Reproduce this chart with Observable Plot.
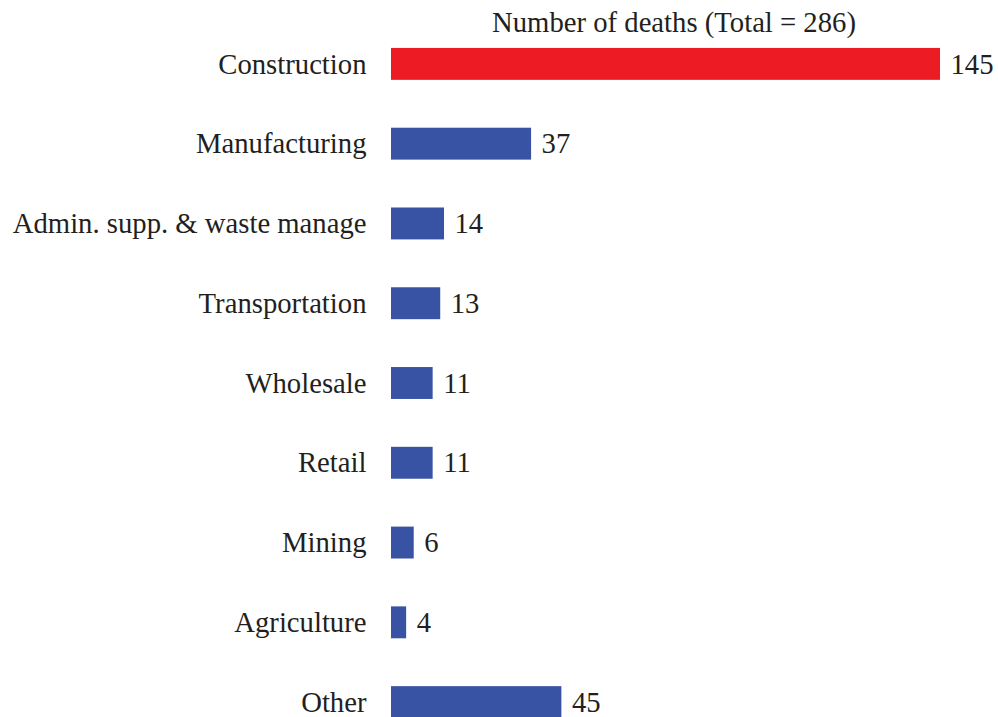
<!DOCTYPE html>
<html><head><meta charset="utf-8">
<script src="https://cdn.jsdelivr.net/npm/d3@7"></script>
<script src="https://cdn.jsdelivr.net/npm/@observablehq/plot@0.6"></script>
<style>body{margin:0;background:#fff}</style>
</head><body><div id="chart"></div>
<script>
const categories = ["Construction","Manufacturing","Admin. supp. & waste manage","Transportation","Wholesale","Retail","Mining","Agriculture","Other"];
const deaths = [145,37,14,13,11,11,6,4,45];
const highlight = ["Construction"];
const titleText = "Number of deaths (Total = 286)";
const data = categories.map((c,i)=>({category:c, value:deaths[i], hi: highlight.includes(c)}));
const chart = Plot.plot({
  width: 998, height: 717,
  marginLeft: 391, marginRight: 58, marginTop: 0, marginBottom: 0,
  style: {fontFamily: "'Liberation Serif', 'Times New Roman', serif", fontSize: "28.7px", color: "#231f20", background: "#fff"},
  x: {domain: [0,145], axis: null},
  y: {domain: categories, range: [24, 742], round: false, paddingInner: 0.6, paddingOuter: 0.3, label: null, tickSize: 0, tickPadding: 25},
  marks: [
    Plot.barX(data, {x: "value", y: "category", fill: d => d.hi ? "#ED1C24" : "#3953A4"}),
    Plot.text(data, {x: "value", y: "category", text: d => String(d.value), textAnchor: "start", dx: 10, fill: "#231f20"}),
    Plot.text([titleText], {frameAnchor: "top", dy: 22, dx: 8, text: d => d, fill: "#231f20", lineAnchor: "middle"})
  ]
});
document.getElementById("chart").append(chart);
</script></body></html>
